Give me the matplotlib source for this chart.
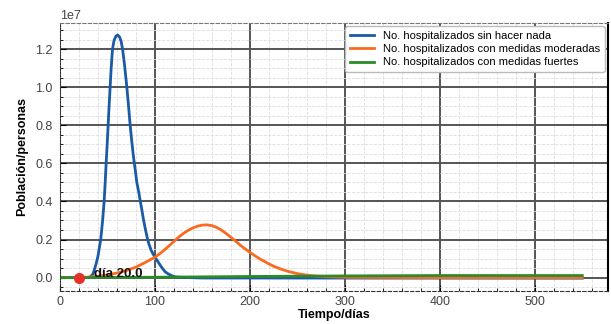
import numpy as np
import matplotlib
matplotlib.use("Agg")
import matplotlib.pyplot as plt
from matplotlib.ticker import MultipleLocator

plt.rcParams["font.family"] = ["Liberation Sans", "DejaVu Sans"]

# values (units of 1e7 persons)
dias_azul = [0, 20, 30, 32, 35, 38, 40, 41, 43, 45, 46.6, 47.7, 48.7, 49.8, 50.8, 51.8,
             52.9, 54, 55.4, 57, 59, 61, 63, 64.5, 66, 68, 70.5, 72.3, 74, 75.8, 77.6,
             79.5, 81, 83, 84.7, 86.5, 88, 90, 91.7, 93.5, 96, 98, 100.5, 103, 105, 108,
             111, 114, 117, 120, 123, 130, 150, 550]
sin_hacer_nada = [0, 0, 0.001, 0.004, 0.02, 0.07, 0.11, 0.14, 0.2, 0.3, 0.4, 0.5, 0.6,
                  0.7, 0.8, 0.9, 1.0, 1.1, 1.2, 1.245, 1.268, 1.274, 1.262, 1.24, 1.2,
                  1.12, 1.0, 0.9, 0.8, 0.71, 0.63, 0.56, 0.5, 0.45, 0.4, 0.35, 0.305,
                  0.255, 0.215, 0.18, 0.145, 0.125, 0.105, 0.085, 0.07, 0.048, 0.03, 0.02,
                  0.012, 0.006, 0.003, 0.001, -0.002, -0.003]

dias_naranja = [0, 20, 30, 40, 50, 60, 70, 80, 90, 100, 105, 110, 115, 120, 125, 130,
                135, 140, 145, 150, 155, 160, 165, 170, 175, 180, 185, 190, 195, 200,
                205, 210, 215, 220, 225, 230, 235, 240, 245, 250, 260, 270, 280, 300,
                350, 400, 550]
medidas_moderadas = [0, 0, 0.003, 0.007, 0.014, 0.024, 0.037, 0.055, 0.08, 0.107, 0.125,
                     0.145, 0.167, 0.19, 0.212, 0.232, 0.248, 0.261, 0.27, 0.276, 0.277,
                     0.273, 0.264, 0.25, 0.232, 0.212, 0.192, 0.17, 0.151, 0.133, 0.116,
                     0.1, 0.086, 0.072, 0.06, 0.05, 0.041, 0.033, 0.027, 0.021, 0.013,
                     0.008, 0.005, 0.002, 0.0005, 0, 0]

dias_verde = [0, 20, 100, 150, 200, 300, 400, 550]
medidas_fuertes = [0, 0, 0.002, 0.004, 0.006, 0.009, 0.011, 0.011]

dia_marcado = 20.0

escala = 1e7

fig = plt.figure(figsize=(6.11, 3.24), dpi=100)
ax = fig.add_axes([0.098, 0.102, 0.897, 0.827])

ax.plot(dias_azul, np.array(sin_hacer_nada) * escala, color="#1a5aa6", lw=2,
        label="No. hospitalizados sin hacer nada")
ax.plot(dias_naranja, np.array(medidas_moderadas) * escala, color="#fb6a1f", lw=2,
        label="No. hospitalizados con medidas moderadas")
ax.plot(dias_verde, np.array(medidas_fuertes) * escala, color="#2b8b2b", lw=2,
        label="No. hospitalizados con medidas fuertes")

ax.plot([dia_marcado], [0], "o", color="#e8302a", ms=7, zorder=5)
ax.annotate("día %.1f" % dia_marcado, (dia_marcado, 0), xytext=(11, -2),
            textcoords="offset points", fontsize=9.5, fontweight="bold",
            va="bottom", ha="left", color="#111111")

ax.set_xlim(0, 577)
ax.set_ylim(-0.07 * escala, 1.337 * escala)
ax.xaxis.set_major_locator(MultipleLocator(100))
ax.xaxis.set_minor_locator(MultipleLocator(20))
ax.yaxis.set_major_locator(MultipleLocator(0.2 * escala))
ax.yaxis.set_minor_locator(MultipleLocator(0.05 * escala))

ax.grid(which="major", color="#555555", lw=1.4)
ax.grid(which="minor", color="#dddddd", lw=0.6, ls="--")
ax.set_axisbelow(True)

ax.tick_params(which="both", labelsize=9, labelcolor="#444444", direction="in")
ax.tick_params(which="major", length=4)
ax.tick_params(which="minor", length=2.5)
ax.tick_params(axis="y", pad=5)
ax.yaxis.get_offset_text().set_fontsize(9)
ax.yaxis.get_offset_text().set_color("#444444")

ax.spines["top"].set_linestyle((0, (3, 2)))
ax.spines["top"].set_color("#777777")
ax.spines["left"].set_linestyle(":")
ax.spines["left"].set_color("#333333")
ax.spines["bottom"].set_linestyle((0, (3, 2)))
ax.spines["bottom"].set_color("#333333")
ax.spines["right"].set_color("#000000")
ax.spines["right"].set_linewidth(1.5)

ax.set_xlabel("Tiempo/días", fontsize=9, fontweight="bold", labelpad=1)
ax.set_ylabel("Población/personas", fontsize=9, fontweight="bold", labelpad=5)

ax.legend(loc="upper right", fontsize=8, handlelength=2.2, borderaxespad=0.3,
          labelspacing=0.3, framealpha=1, edgecolor="#bbbbbb")

fig.savefig("out.png", dpi=100)
